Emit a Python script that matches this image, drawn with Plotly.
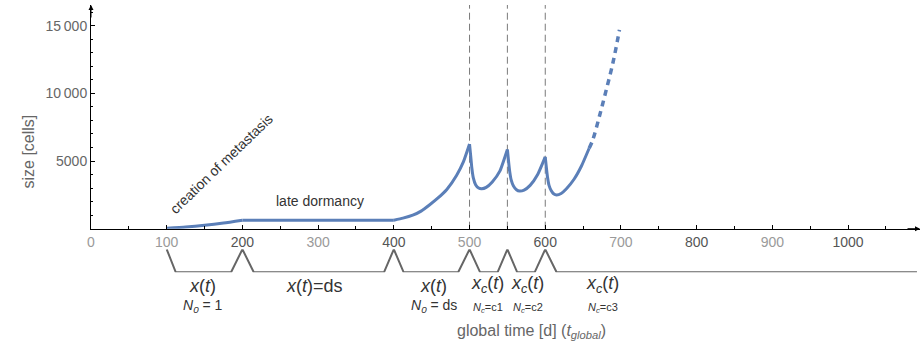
import plotly.graph_objects as go

# ---------------- data ----------------
# tumour size curve (global time in days, size in cells)
seg_init_t = [100, 125, 150, 175, 200]
seg_init_y = [40, 120, 250, 420, 630]
seg_dorm_t = [200, 400]
seg_dorm_y = [630, 630]
seg_grow_t = [400, 412, 425, 436, 447, 458, 470, 483, 492, 500]
seg_grow_y = [630, 780, 1000, 1300, 1750, 2250, 2900, 3950, 4950, 6250]
seg_c1_t = [500, 501.5, 503, 505, 508, 512, 516, 522, 530, 540, 550]
seg_c1_y = [6250, 5400, 4500, 3750, 3250, 3000, 2950, 3050, 3450, 4250, 5850]
seg_c2_t = [550, 551.5, 553, 555, 558, 562, 566, 572, 580, 590, 600]
seg_c2_y = [5850, 5000, 4250, 3600, 3150, 2880, 2780, 2850, 3200, 4000, 5300]
seg_c3_t = [600, 601.5, 603, 605, 608, 611, 615, 621, 628, 638, 648, 658]
seg_c3_y = [5300, 4500, 3800, 3200, 2800, 2580, 2490, 2600, 2950, 3650, 4650, 5940]
seg_proj_t = [658, 662.7, 672, 680, 689.7, 698]
seg_proj_y = [5940, 6550, 8400, 10120, 12330, 14680]

# treatment / phase change times (dashed lines)
event_t = [500, 550, 600]

# schematic timeline below the axis
timeline_t = [100, 112, 185, 200, 215, 387, 400, 413, 485, 500, 514, 537, 550, 563, 586, 600, 615, 1091]
timeline_y = [1, 0, 0, 1, 0, 0, 1, 0, 0, 1, 0, 0, 1, 0, 0, 1, 0, 0]

# phase labels under the timeline
phase_x = [147.5, 295.5, 452.5, 524, 577, 676]
phase_top = ["<i>x</i>(<i>t</i>)", "<i>x</i>(<i>t</i>)=ds", "<i>x</i>(<i>t</i>)",
             "<i>x<sub>c</sub></i>(<i>t</i>)", "<i>x<sub>c</sub></i>(<i>t</i>)", "<i>x<sub>c</sub></i>(<i>t</i>)"]
phase_bottom = ["<i>N<sub>0</sub></i> = 1", "", "<i>N<sub>0</sub></i> = ds",
                "<i>N<sub>c</sub></i>=c1", "<i>N<sub>c</sub></i>=c2", "<i>N<sub>c</sub></i>=c3"]
phase_bottom_size = [14, 14, 14, 11, 11, 11]

x_tickvals = [0, 100, 200, 300, 400, 500, 600, 700, 800, 900, 1000]
y_tickvals = [5000, 10000, 15000]
y_ticktext = ["5000", "10\u2009000", "15\u2009000"]

# ---------------- style ----------------
FONT = "Liberation Sans, Arial, sans-serif"
BLUE = "#5B7FB8"
GRAY = "#666666"

fig = go.Figure()

solid_segments = [(seg_init_t, seg_init_y), (seg_dorm_t, seg_dorm_y), (seg_grow_t, seg_grow_y),
                  (seg_c1_t, seg_c1_y), (seg_c2_t, seg_c2_y), (seg_c3_t, seg_c3_y)]

for ev in event_t:
    fig.add_trace(go.Scatter(x=[ev, ev], y=[0, 17500], mode="lines",
                             line=dict(color="#7a7a7a", width=1, dash="7px,4px"),
                             hoverinfo="skip", showlegend=False))

for t, y in solid_segments:
    fig.add_trace(go.Scatter(x=t, y=y, mode="lines", line=dict(color=BLUE, width=3, shape="spline", smoothing=0.5),
                             showlegend=False))
fig.add_trace(go.Scatter(x=seg_proj_t, y=seg_proj_y, mode="lines",
                         line=dict(color=BLUE, width=3.5, shape="spline", dash="6px,5px"),
                         showlegend=False))

fig.add_trace(go.Scatter(x=timeline_t, y=timeline_y, mode="lines", yaxis="y2",
                         line=dict(color=GRAY, width=2), showlegend=False))

x_ticktext = []
for v in x_tickvals:
    col = "#555555" if (v // 100) % 2 == 0 and v != 0 else "#9a9a9a"
    x_ticktext.append(f"<span style='color:{col}'>{v}</span>")

W, H = 921, 357
ML, MR = 91, 1
mt, mb = 5, 0
ph = H - mt - mb
pw = W - ML - MR
y_axis_px = 228.7
dom_lo = (H - y_axis_px) / ph
y_top = (y_axis_px - mt) / (67.7 / 5000)

def ypaper(py):
    return (H - py) / ph

def xpaper(px):
    return (px - ML) / pw

fig.update_layout(
    template="none",
    width=W, height=H,
    margin=dict(l=ML, r=MR, t=mt, b=mb, autoexpand=False),
    paper_bgcolor="white", plot_bgcolor="white",
    font=dict(family=FONT, color=GRAY, size=14),
    xaxis=dict(range=[0, 1095], showgrid=False, zeroline=False, showline=True, linecolor="black",
               linewidth=1, ticks="inside", ticklen=4, tickcolor="black", tickvals=x_tickvals,
               ticktext=x_ticktext, tickfont=dict(size=14, family=FONT), automargin=False,
               minor=dict(ticks="inside", dtick=50, ticklen=3, tickcolor="black", showgrid=False),
               anchor="y"),
    yaxis=dict(domain=[dom_lo, 1], range=[0, y_top], showgrid=False, zeroline=False, showline=True,
               linecolor="black", linewidth=1, ticks="inside", ticklen=4, tickcolor="black",
               tickvals=y_tickvals, ticktext=y_ticktext, tickfont=dict(size=14, family=FONT, color=GRAY),
               automargin=False,
               minor=dict(ticks="inside", dtick=1000, ticklen=2, tickcolor="black", showgrid=False)),
    yaxis2=dict(domain=[ypaper(272.3), ypaper(249.3)], range=[0, 1], visible=False, anchor="x"),
)

ann = []
# axis arrows
ann.append(dict(x=1095, y=0, xref="x", yref="y", ax=-14, ay=0, showarrow=True, arrowhead=2,
                arrowsize=1, arrowwidth=1, arrowcolor="black", text=""))
ann.append(dict(x=0, y=y_top, xref="x", yref="y", ax=0, ay=14, showarrow=True, arrowhead=2,
                arrowsize=1, arrowwidth=1, arrowcolor="black", text=""))
# axis titles
ann.append(dict(x=xpaper(17), y=ypaper(113), xref="paper", yref="paper", text="size [cells]",
                showarrow=False, textangle=-90, font=dict(size=16, color=GRAY)))
ann.append(dict(x=xpaper(531), y=ypaper(343), xref="paper", yref="paper",
                text="global time [d] (<i>t<sub>global</sub></i>)", showarrow=False,
                font=dict(size=16, color=GRAY)))
# in-plot text
ann.append(dict(x=302, y=2050, xref="x", yref="y", text="late dormancy", showarrow=False,
                font=dict(size=14, color="#333333")))
ann.append(dict(x=171.5, y=4800, xref="x", yref="y", text="creation of metastasis", showarrow=False,
                textangle=-44, font=dict(size=14, color="#333333")))
# phase labels
for px_, top, bot, bs in zip(phase_x, phase_top, phase_bottom, phase_bottom_size):
    ann.append(dict(x=px_, y=ypaper(298), xref="x", yref="paper", text=top, showarrow=False,
                    font=dict(size=18, color="#333333")))
    if bot:
        ann.append(dict(x=px_, y=ypaper(317), xref="x", yref="paper", text=bot, showarrow=False,
                        font=dict(size=bs, color="#333333")))
fig.update_layout(annotations=ann)

fig.write_html("out.html", config={"displayModeBar": False},
               post_script="document.body.style.margin='0';")
